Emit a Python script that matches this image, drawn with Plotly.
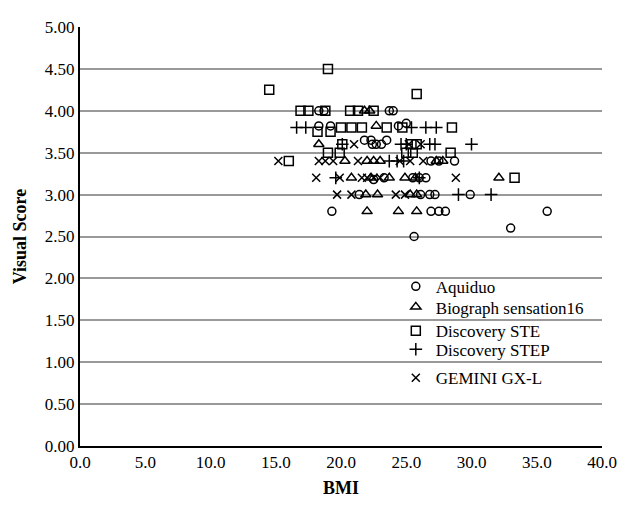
import plotly.graph_objects as go

# Aquiduo (circles)
aq_bmi = [18.3, 18.7, 23.7, 24.0, 18.3, 19.2, 24.4, 25.0, 21.8, 22.3, 22.7, 23.1, 23.5, 22.4,
          23.3, 22.5, 25.5, 26.0, 26.5, 21.4, 26.1, 26.8, 27.2, 29.9, 19.3, 26.9, 27.5, 28.0,
          35.8, 33.0, 25.6, 26.9, 28.7, 27.5]
aq_score = [4.0, 4.0, 4.0, 4.0, 3.82, 3.82, 3.82, 3.85, 3.65, 3.65, 3.6, 3.6, 3.65, 3.6,
            3.2, 3.18, 3.2, 3.2, 3.2, 3.0, 3.0, 3.0, 3.0, 3.0, 2.8, 2.8, 2.8, 2.8,
            2.8, 2.6, 2.5, 3.4, 3.4, 3.4]

# Biograph sensation16 (triangles)
bio_bmi = [21.8, 22.2, 22.7, 18.3, 20.3, 22.0, 22.5, 23.0, 27.3, 27.8, 20.8, 22.3, 23.7, 24.9,
           25.7, 32.1, 21.9, 22.8, 25.3, 25.8, 22.0, 24.4, 25.8]
bio_score = [4.0, 4.0, 3.82, 3.6, 3.4, 3.4, 3.4, 3.4, 3.4, 3.4, 3.2, 3.2, 3.2, 3.2,
             3.2, 3.2, 3.0, 3.0, 3.0, 3.0, 2.8, 2.8, 2.8]

# Discovery STE (squares)
ste_bmi = [14.5, 19.0, 25.8, 16.0, 16.9, 17.5, 18.8, 20.7, 21.3, 22.5, 18.2, 19.2, 20.0, 20.8,
           21.6, 23.5, 24.7, 28.5, 19.0, 19.9, 20.1, 25.0, 25.5, 28.4, 33.3, 25.4, 25.8]
ste_score = [4.25, 4.5, 4.2, 3.4, 4.0, 4.0, 4.0, 4.0, 4.0, 4.0, 3.75, 3.75, 3.8, 3.8,
             3.8, 3.8, 3.8, 3.8, 3.5, 3.5, 3.6, 3.5, 3.5, 3.5, 3.2, 3.6, 3.6]

# Discovery STEP (plus)
step_bmi = [16.6, 17.3, 25.4, 26.5, 27.3, 20.1, 24.6, 25.0, 26.8, 27.2, 30.0, 23.7, 24.3, 19.6,
            26.0, 29.0, 31.5, 24.8]
step_score = [3.8, 3.8, 3.8, 3.8, 3.8, 3.6, 3.6, 3.6, 3.6, 3.6, 3.6, 3.4, 3.4, 3.2,
              3.2, 3.0, 3.0, 3.4]

# GEMINI GX-L (x)
gem_bmi = [15.2, 18.3, 18.8, 19.4, 21.3, 24.5, 25.3, 26.3, 28.8, 18.1, 19.9, 21.6, 22.5, 23.0,
           19.7, 20.8, 24.2, 24.9, 21.0, 26.1, 25.2, 22.0]
gem_score = [3.4, 3.4, 3.4, 3.4, 3.4, 3.4, 3.4, 3.4, 3.2, 3.2, 3.2, 3.2, 3.2, 3.2,
             3.0, 3.0, 3.0, 3.0, 3.6, 3.6, 3.6, 3.2]

x_ticks = [0, 5, 10, 15, 20, 25, 30, 35, 40]
y_ticks = [0, 0.5, 1.0, 1.5, 2.0, 2.5, 3.0, 3.5, 4.0, 4.5, 5.0]

series = [
    ("Aquiduo", aq_bmi, aq_score, "circle-open", 8),
    ("Biograph sensation16", bio_bmi, bio_score, "triangle-up-open", 9),
    ("Discovery STE", ste_bmi, ste_score, "square-open", 9),
    ("Discovery STEP", step_bmi, step_score, "cross-thin-open", 9),
    ("GEMINI GX-L", gem_bmi, gem_score, "x-thin-open", 8),
]
legend_ids = ["legend", "legend2", "legend3", "legend4", "legend5"]
legend_y = [0.38, 0.331, 0.274, 0.23, 0.162]

font_family = "Liberation Serif"
fig = go.Figure()
for (name, xs, ys, sym, sz), lid in zip(series, legend_ids):
    fig.add_trace(go.Scatter(
        x=xs, y=ys, mode="markers", name=name, legend=lid,
        marker=dict(symbol=sym, size=sz, color="black",
                    line=dict(color="black", width=1.5)),
    ))

legend_layout = {}
for lid, ly in zip(legend_ids, legend_y):
    legend_layout[lid] = dict(x=0.605, y=ly, xanchor="left", yanchor="middle",
                              bgcolor="rgba(0,0,0,0)",
                              font=dict(size=17, family=font_family),
                              itemsizing="trace")

# page body has an 8px default margin; size/margins compensate for it
fig.update_layout(
    width=619, height=497,
    margin=dict(l=71, r=14, t=10, b=45),
    paper_bgcolor="white", plot_bgcolor="white",
    font=dict(family=font_family, size=17, color="black"),
    showlegend=True,
    xaxis=dict(range=[0, 40], tickvals=x_ticks, tickformat=".1f",
               showgrid=False, zeroline=False, showline=True, linecolor="black",
               linewidth=2, ticks="", ticklabeloverflow="allow",
               title=dict(text="<b>BMI</b>", font=dict(size=18, family=font_family), standoff=10)),
    yaxis=dict(range=[0, 5], tickvals=y_ticks, tickformat=".2f",
               showgrid=True, gridcolor="#999999", gridwidth=2, zeroline=False,
               showline=True, linecolor="black", linewidth=2, ticks="",
               title=dict(text="<b>Visual Score</b>", font=dict(size=18, family=font_family), standoff=14)),
    **legend_layout,
)

fig.write_html("out.html")
